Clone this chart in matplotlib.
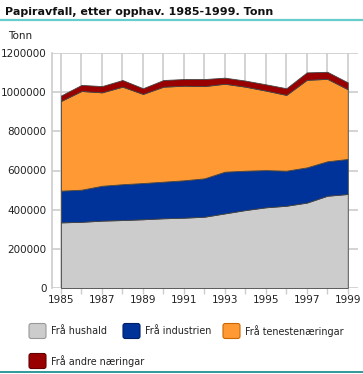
import matplotlib
matplotlib.use('Agg')
import matplotlib.pyplot as plt
from matplotlib.patches import FancyBboxPatch
from matplotlib.lines import Line2D

years = list(range(1985, 2000))
hushald = [335000, 338000, 344000, 347000, 351000, 356000, 359000, 364000,
           381000, 398000, 412000, 420000, 436000, 471000, 480000]
industrien = [162000, 164000, 178000, 183000, 185000, 187000, 191000, 196000,
              213000, 201000, 190000, 179000, 180000, 176000, 179000]
tenestenaeringar = [458000, 504000, 477000, 498000, 455000, 485000, 483000, 471000,
                    449000, 429000, 406000, 387000, 447000, 421000, 356000]
andre = [28000, 31000, 32000, 34000, 29000, 34000, 34000, 36000,
         31000, 31000, 32000, 34000, 38000, 36000, 35000]

labels = ['Frå hushald', 'Frå industrien', 'Frå tenestenæringar', 'Frå andre næringar']
colors = ['#cccccc', '#003399', '#ff9933', '#990000']
edges = ['#999999', '#001f66', '#cc6600', '#660000']
yticks = [0, 200000, 400000, 600000, 800000, 1000000, 1200000]

W, H = 363, 374
fig = plt.figure(figsize=(W / 100, H / 100), dpi=100)
plt.rcParams['font.family'] = 'DejaVu Sans'

def px(x, y):
    return x / W, 1 - y / H

# title and rules
fig.text(*px(5, 12), 'Papiravfall, etter opphav. 1985-1999. Tonn',
         fontsize=8, fontweight='bold', va='center', ha='left', color='#111111')
fig.add_artist(Line2D([0, 1], [1 - 20 / H] * 2, color='#66cccc', lw=1.6))
fig.add_artist(Line2D([0, 1], [1 - 372 / H] * 2, color='#339999', lw=1.4))
fig.text(*px(8, 36), 'Tonn', fontsize=7.5, va='center', ha='left', color='#222222')

# plot area
left, right, top, bottom = 52, 358, 53, 288
ax = fig.add_axes([left / W, 1 - bottom / H, (right - left) / W, (bottom - top) / H])
ax.stackplot(years, hushald, industrien, tenestenaeringar, andre,
             colors=colors, edgecolor='#444444', linewidth=0.6, zorder=3)
ax.set_xlim(1984.56, 1999.5)
ax.set_ylim(0, 1200000)
ax.set_yticks(yticks)
ax.set_yticklabels([str(v) for v in yticks])
ax.set_xticks(years)
ax.set_xticklabels([str(y) if (y - 1985) % 2 == 0 else '' for y in years])
ax.grid(True, color='#cccccc', linewidth=1.2, zorder=0)
ax.set_axisbelow(True)
ax.tick_params(axis='y', length=0, pad=4, labelsize=7.5, labelcolor='#222222')
ax.tick_params(axis='x', length=4, width=1, color='#cccccc', pad=1,
               labelsize=7.5, labelcolor='#222222')
for s in ['top', 'right', 'bottom']:
    ax.spines[s].set_visible(False)
ax.spines['left'].set_color('#cccccc')
ax.spines['left'].set_linewidth(1.2)

# legend
entries = [(29, 331, 0), (123, 331, 1), (223, 331, 2), (29, 361, 3)]
for x0, yc, i in entries:
    bx, by = px(x0, yc + 7.5)
    patch = FancyBboxPatch((bx, by), 17 / W, 15 / H,
                           boxstyle='round,pad=0,rounding_size=0.006',
                           facecolor=colors[i], edgecolor=edges[i], lw=0.8,
                           transform=fig.transFigure)
    fig.add_artist(patch)
    fig.text(*px(x0 + 22, yc), labels[i], fontsize=6.9, va='center', ha='left',
             color='#222222')

fig.savefig('out.png', dpi=100)
